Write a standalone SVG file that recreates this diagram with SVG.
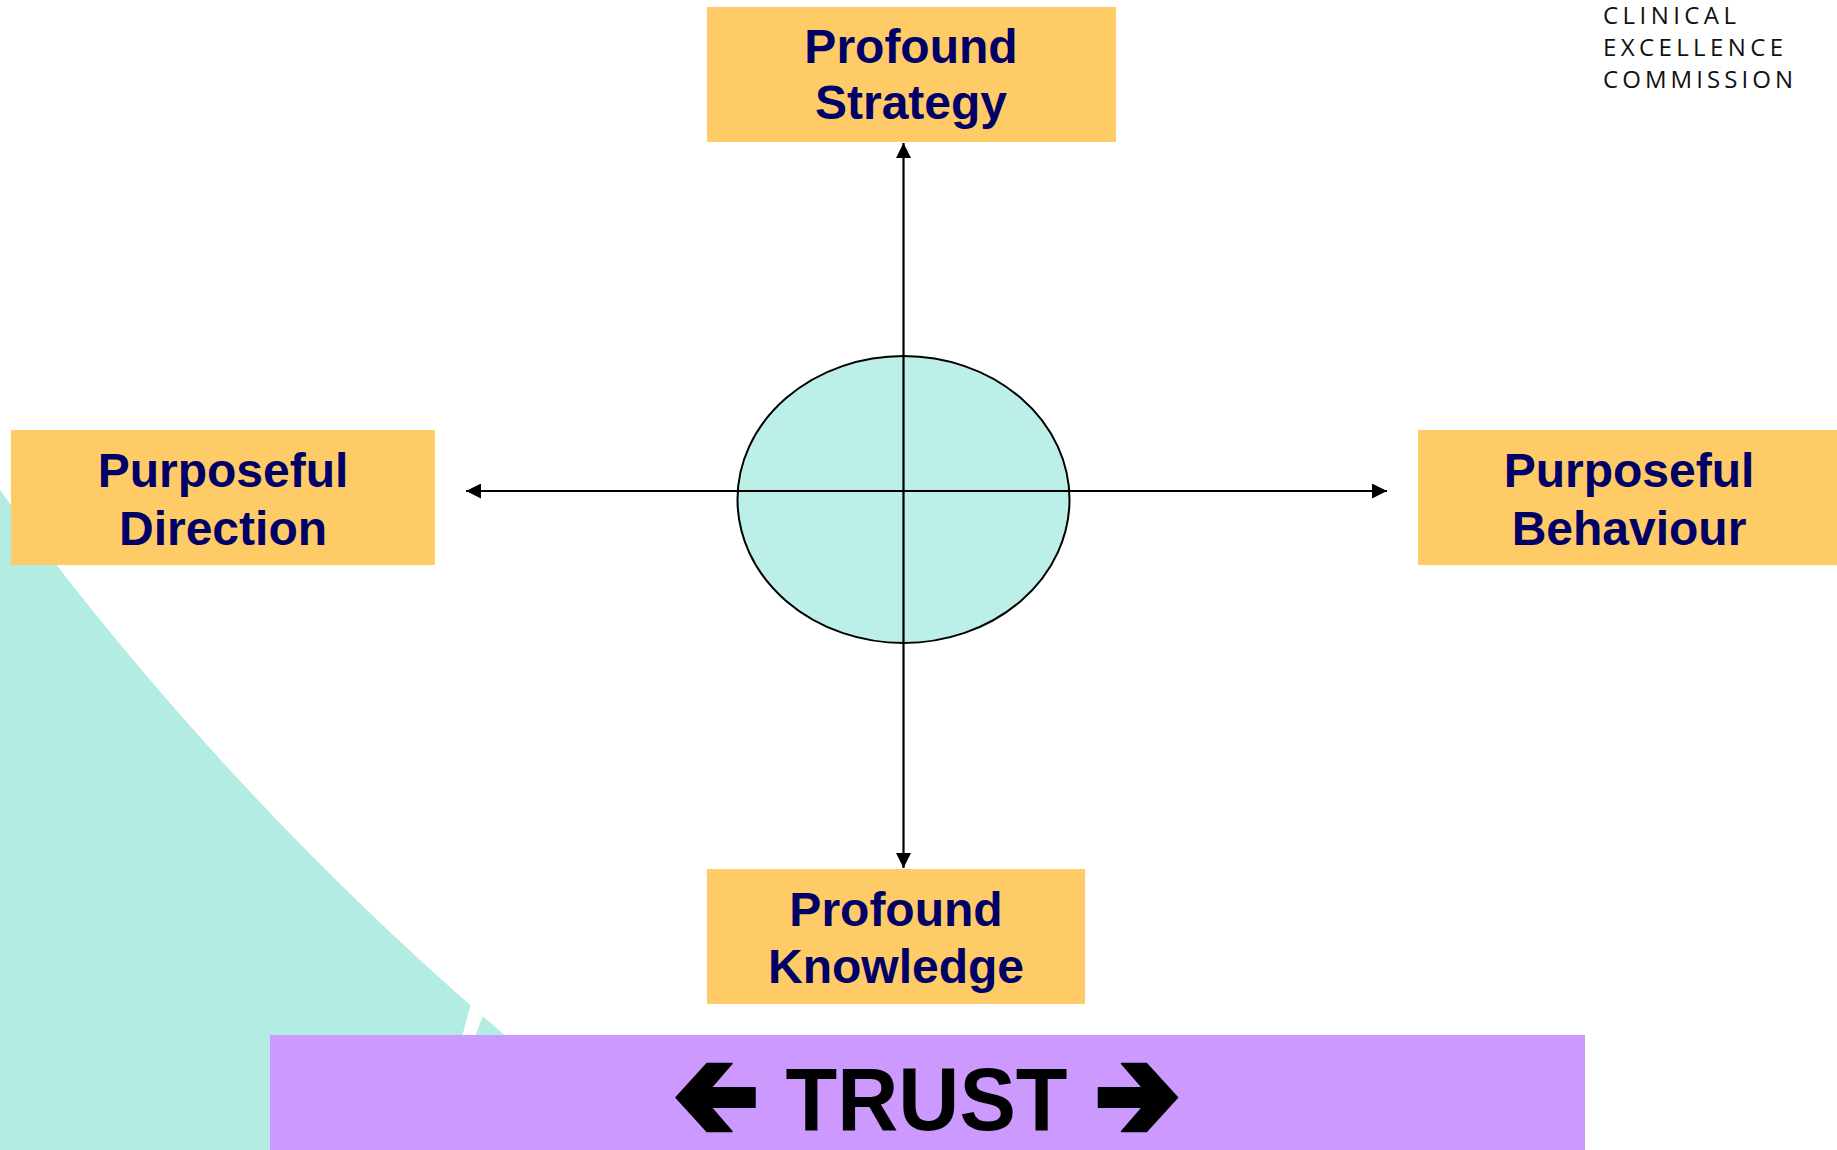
<svg xmlns="http://www.w3.org/2000/svg" width="1837" height="1150" viewBox="0 0 1837 1150">
  <defs>
    <marker id="arrowhead" viewBox="0 0 10 10" refX="10" refY="5" markerUnits="userSpaceOnUse" markerWidth="15" markerHeight="15" orient="auto">
      <path d="M0,0 L10,5 L0,10 Z" fill="#000"/>
    </marker>
    <style>
      .box { fill: #FECB66; }
      .label { font-family: "Liberation Sans", Arial, sans-serif; font-weight: bold; font-size: 48px; fill: #000066; text-anchor: middle; }
      .axis { stroke: #000; stroke-width: 2.2; fill: none; marker-end: url(#arrowhead); }
      .logo { font-family: "Open Sans", "Liberation Sans", sans-serif; font-weight: 400; font-size: 24px; fill: #111; }
    </style>
  </defs>

  <!-- page background -->
  <rect width="1837" height="1150" fill="#fff"/>

  <!-- teal sweep in the lower-left corner -->
  <g id="background-sweep">
    <path d="M0,490 A3220,3220 0 0 0 647,1150 L0,1150 Z" fill="#B2ECE3"/>
    <polygon points="471,1003 485,1010 475,1037 462,1037" fill="#fff"/>
  </g>

  <!-- logo wordmark -->
  <g id="logo">
    <text class="logo" x="1603" y="24" textLength="133" lengthAdjust="spacing">CLINICAL</text>
    <text class="logo" x="1603" y="56" textLength="180" lengthAdjust="spacing">EXCELLENCE</text>
    <text class="logo" x="1603" y="88" textLength="190" lengthAdjust="spacing">COMMISSION</text>
  </g>

  <!-- central hub -->
  <g id="hub">
    <ellipse cx="903.5" cy="499.5" rx="166" ry="143.5" fill="#BCEFE8" stroke="#000" stroke-width="2"/>
  </g>

  <!-- axes out to the four boxes -->
  <g id="connectors">
    <line class="axis" x1="903.5" y1="491" x2="903.5" y2="143"/>
    <line class="axis" x1="903.5" y1="491" x2="903.5" y2="868"/>
    <line class="axis" x1="903.5" y1="491" x2="466" y2="491"/>
    <line class="axis" x1="903.5" y1="491" x2="1387" y2="491"/>
  </g>

  <g id="profound-strategy">
    <rect class="box" x="707" y="7" width="409" height="135"/>
    <text class="label" x="911" y="63">Profound</text>
    <text class="label" x="911" y="119">Strategy</text>
  </g>

  <g id="purposeful-direction">
    <rect class="box" x="11" y="430" width="424" height="135"/>
    <text class="label" x="223" y="487">Purposeful</text>
    <text class="label" x="223" y="545">Direction</text>
  </g>

  <g id="purposeful-behaviour">
    <rect class="box" x="1418" y="430" width="419" height="135"/>
    <text class="label" x="1629" y="487">Purposeful</text>
    <text class="label" x="1629" y="545">Behaviour</text>
  </g>

  <g id="profound-knowledge">
    <rect class="box" x="707" y="869" width="378" height="135"/>
    <text class="label" x="896" y="926">Profound</text>
    <text class="label" x="896" y="983">Knowledge</text>
  </g>

  <!-- trust banner -->
  <g id="trust">
    <rect x="270" y="1035" width="1315" height="115" fill="#CC99FF"/>
    <polygon points="676,1097.5 707,1063.5 732,1063.5 711,1087.7 755,1087.7 755,1107.3 711,1107.3 732,1131.5 707,1131.5" fill="#000" stroke="#000" stroke-width="1.5" stroke-linejoin="round"/>
    <text x="926.5" y="1130" font-family="Liberation Sans, Arial, sans-serif" font-weight="bold" font-size="89" fill="#000" text-anchor="middle" textLength="282" lengthAdjust="spacingAndGlyphs">TRUST</text>
    <polygon points="1177.5,1097.5 1146.5,1063.5 1121.5,1063.5 1142.5,1087.7 1098.5,1087.7 1098.5,1107.3 1142.5,1107.3 1121.5,1131.5 1146.5,1131.5" fill="#000" stroke="#000" stroke-width="1.5" stroke-linejoin="round"/>
  </g>
</svg>
